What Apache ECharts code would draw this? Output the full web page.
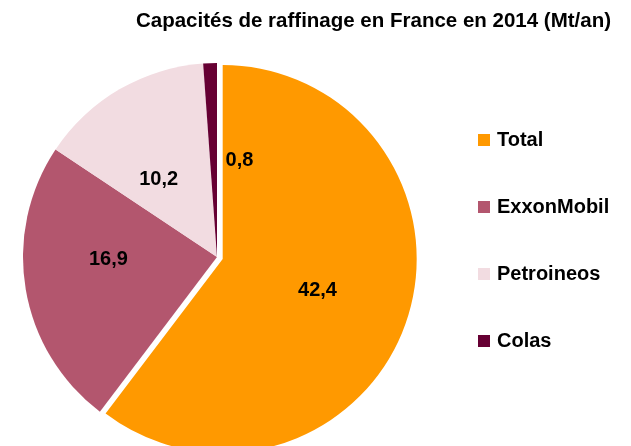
<!DOCTYPE html>
<html>
<head>
<meta charset="utf-8">
<script src="https://cdn.jsdelivr.net/npm/echarts@6/dist/echarts.min.js"></script>
<style>
  html, body { margin: 0; padding: 0; background: #fff; }
  #chart { width: 631px; height: 446px; }
</style>
</head>
<body>
<div id="chart"></div>
<script>
// Capacités de raffinage en France en 2014 (Mt/an)
const companies = ['Total', 'ExxonMobil', 'Petroineos', 'Colas'];
const capacities = [42.4, 16.9, 10.2, 0.8];

const colors = ['#FF9900', '#B3566E', '#F2DCE1', '#660033'];
// nudges so the labels sit roughly where Excel put them
const labelNudge = [[-3, -7], [-10, -14], [-8, 9], [26, 3]];

const font = '"Liberation Sans", Arial, sans-serif';

const chart = echarts.init(document.getElementById('chart'));

const option = {
  animation: false,
  title: {
    text: 'Capacités de raffinage en France en 2014 (Mt/an)',
    right: 15,
    top: 6,
    textStyle: { fontFamily: font, fontSize: 20.5, fontWeight: 'bold', color: '#000' }
  },
  legend: {
    orient: 'vertical',
    left: 473,
    top: 125,
    icon: 'rect',
    itemWidth: 12,
    itemHeight: 12,
    itemGap: 47,
    selectedMode: false,
    data: companies,
    textStyle: { fontFamily: font, fontSize: 20, fontWeight: 'bold', color: '#000', padding: [0, 0, 0, 2] }
  },
  series: [
    {
      type: 'pie',
      center: [217, 257],
      radius: 194,
      startAngle: 90,
      clockwise: true,
      selectedMode: 'single',
      selectedOffset: 6,
      emphasis: { disabled: true },
      label: {
        show: true,
        position: 'inside',
        fontFamily: font,
        fontSize: 20,
        fontWeight: 'bold',
        color: '#000',
        formatter: p => p.value.toFixed(1).replace('.', ',')
      },
      labelLine: { show: false },
      data: companies.map((name, i) => ({
        name,
        value: capacities[i],
        selected: i === 0,
        itemStyle: { color: colors[i] },
        label: { offset: labelNudge[i] }
      }))
    }
  ]
};

chart.setOption(option);
window.addEventListener('resize', () => chart.resize());
</script>
</body>
</html>
